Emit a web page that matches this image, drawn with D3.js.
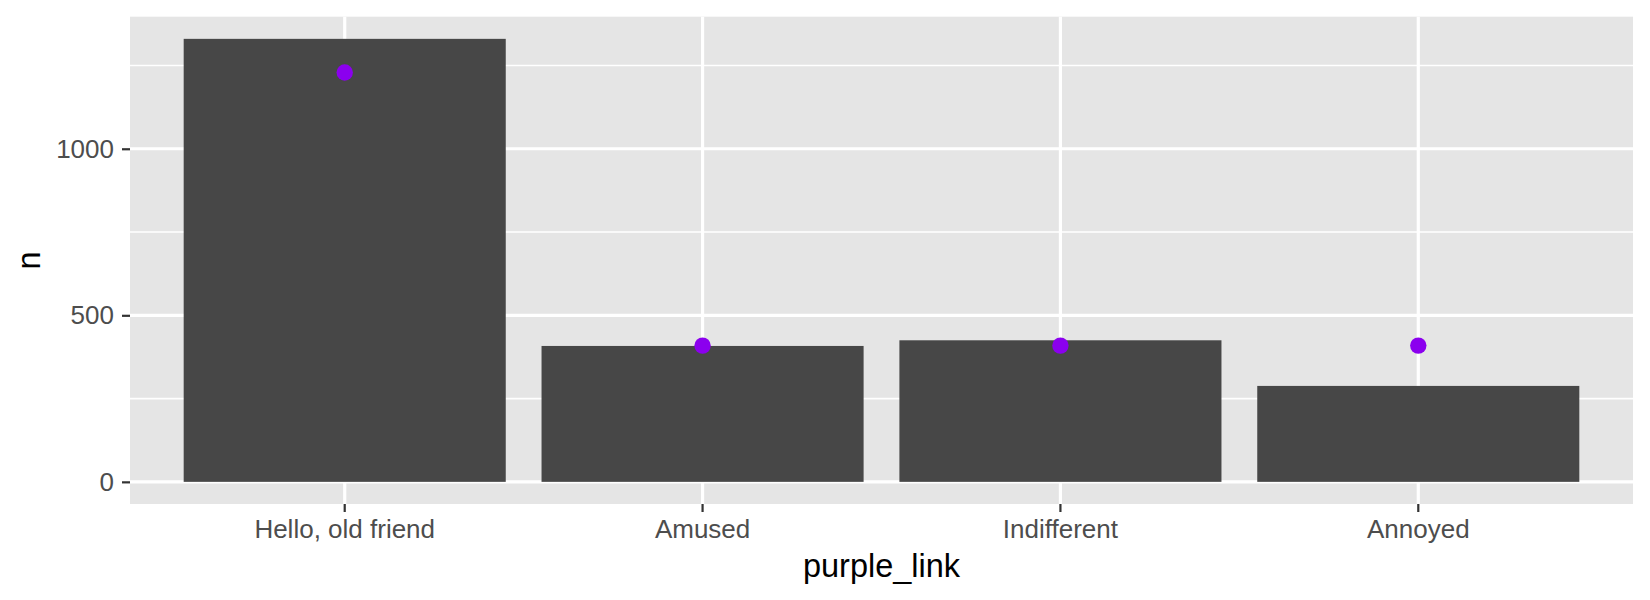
<!DOCTYPE html>
<html>
<head>
<meta charset="utf-8">
<script src="https://cdn.jsdelivr.net/npm/d3@7/dist/d3.min.js"></script>
<style>
  html, body { margin: 0; padding: 0; background: #ffffff; }
  svg { display: block; font-family: "Liberation Sans", Arial, Helvetica, sans-serif; }
</style>
</head>
<body>
<svg id="chart" width="1650" height="600"></svg>
<script>
// ---- data ----
const categories = ["Hello, old friend", "Amused", "Indifferent", "Annoyed"];
const barValues = [1330, 408, 425, 288];
const pointValues = [1229, 409, 409, 409];
const yTicks = [0, 500, 1000];
const yMinorTicks = [250, 750, 1250];
const xTitle = "purple_link";
const yTitle = "n";

// ---- layout ----
const W = 1650, H = 600;
const panel = { left: 130, right: 1633, top: 16.7, bottom: 504 };

const svg = d3.select("#chart");

const x = d3.scaleBand()
  .domain(categories)
  .range([panel.left, panel.right])
  .paddingInner(0.1)
  .paddingOuter(0.15);

const maxV = d3.max(barValues.concat(pointValues));
const minV = 0;
const ex = (maxV - minV) * 0.05;
const y = d3.scaleLinear()
  .domain([minV - ex, maxV + ex])
  .range([panel.bottom, panel.top]);

// panel background
svg.append("rect")
  .attr("x", panel.left).attr("y", panel.top)
  .attr("width", panel.right - panel.left)
  .attr("height", panel.bottom - panel.top)
  .attr("fill", "#E5E5E5");

// minor grid
svg.append("g").selectAll("line").data(yMinorTicks).join("line")
  .attr("x1", panel.left).attr("x2", panel.right)
  .attr("y1", d => y(d)).attr("y2", d => y(d))
  .attr("stroke", "#ffffff").attr("stroke-width", 1.6);

// major grid
svg.append("g").selectAll("line").data(yTicks).join("line")
  .attr("x1", panel.left).attr("x2", panel.right)
  .attr("y1", d => y(d)).attr("y2", d => y(d))
  .attr("stroke", "#ffffff").attr("stroke-width", 3.2);

svg.append("g").selectAll("line").data(categories).join("line")
  .attr("x1", d => x(d) + x.bandwidth() / 2).attr("x2", d => x(d) + x.bandwidth() / 2)
  .attr("y1", panel.top).attr("y2", panel.bottom)
  .attr("stroke", "#ffffff").attr("stroke-width", 3.2);

// bars
svg.append("g").selectAll("rect").data(barValues).join("rect")
  .attr("x", (d, i) => x(categories[i]))
  .attr("width", x.bandwidth())
  .attr("y", d => y(d))
  .attr("height", d => y(0) - y(d))
  .attr("fill", "#474747");

// points
svg.append("g").selectAll("circle").data(pointValues).join("circle")
  .attr("cx", (d, i) => x(categories[i]) + x.bandwidth() / 2)
  .attr("cy", d => y(d))
  .attr("r", 8.2)
  .attr("fill", "#8B00EE");

// y axis
const yAxis = svg.append("g")
  .attr("transform", `translate(${panel.left},0)`)
  .call(d3.axisLeft(y).tickValues(yTicks).tickSize(8).tickPadding(8).tickFormat(d3.format("d")));
yAxis.select(".domain").remove();
yAxis.selectAll(".tick line").attr("stroke", "#333333").attr("stroke-width", 2.2);
yAxis.selectAll(".tick text")
  .attr("fill", "#4D4D4D")
  .attr("font-size", 26)
  .attr("font-family", "'Liberation Sans', Arial, Helvetica, sans-serif");

// x axis
const xAxis = svg.append("g")
  .attr("transform", `translate(0,${panel.bottom})`)
  .call(d3.axisBottom(x).tickSize(8).tickPadding(8));
xAxis.select(".domain").remove();
xAxis.selectAll(".tick line").attr("stroke", "#333333").attr("stroke-width", 2.2);
xAxis.selectAll(".tick text")
  .attr("fill", "#4D4D4D")
  .attr("font-size", 26)
  .attr("font-family", "'Liberation Sans', Arial, Helvetica, sans-serif");

// axis titles
svg.append("text")
  .attr("x", (panel.left + panel.right) / 2)
  .attr("y", 577)
  .attr("text-anchor", "middle")
  .attr("font-size", 32.5)
  .attr("fill", "#000000")
  .text(xTitle);

svg.append("text")
  .attr("transform", `translate(40,${(panel.top + panel.bottom) / 2}) rotate(-90)`)
  .attr("text-anchor", "middle")
  .attr("font-size", 32.5)
  .attr("fill", "#000000")
  .text(yTitle);
</script>
</body>
</html>
